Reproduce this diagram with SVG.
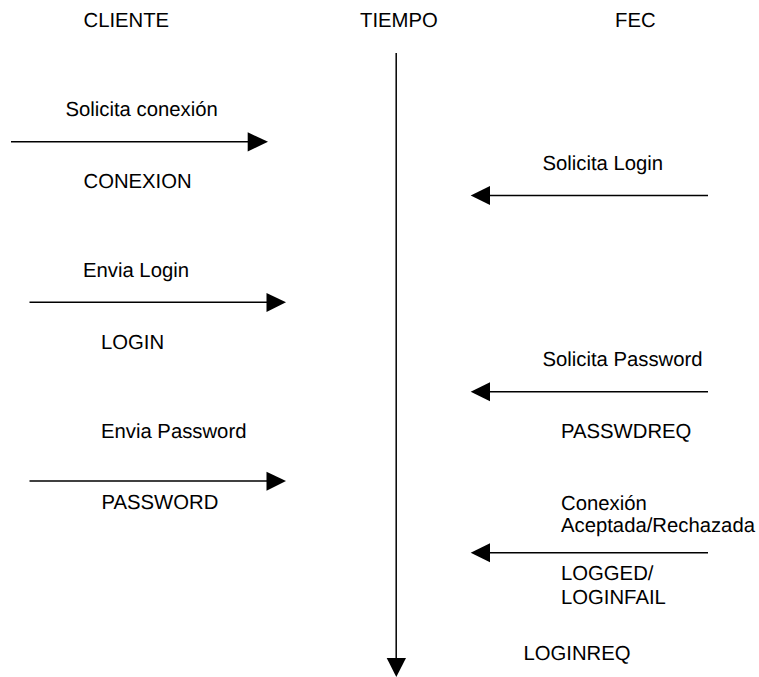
<svg xmlns="http://www.w3.org/2000/svg" width="759" height="677" viewBox="0 0 759 677">
<style>
text{font-family:"Liberation Sans",Arial,sans-serif;font-size:20.3px;fill:#000;text-rendering:geometricPrecision}
.c{stroke:#000;stroke-width:1.5;fill:none}
.h{fill:#000;stroke:none}
</style>
<rect width="759" height="677" fill="#fff"/>
<g id="labels">
<text x="83.500" y="27.300">CLIENTE</text>
<text x="360" y="27.300">TIEMPO</text>
<text x="615" y="27.300">FEC</text>
<text x="65.500" y="116">Solicita conexión</text>
<text x="83.500" y="188">CONEXION</text>
<text x="542.500" y="170">Solicita Login</text>
<text x="83" y="277">Envia Login</text>
<text x="101" y="349">LOGIN</text>
<text x="542.500" y="366">Solicita Password</text>
<text x="101" y="438">Envia Password</text>
<text x="561" y="438">PASSWDREQ</text>
<text x="101.500" y="509">PASSWORD</text>
<text x="561" y="510">Conexión</text>
<text x="561" y="532">Aceptada/Rechazada</text>
<text x="561" y="580">LOGGED/</text>
<text x="561" y="604">LOGINFAIL</text>
<text x="523.500" y="660">LOGINREQ</text>
</g>
<g id="connectors">
<path class="c" d="M396.200 53V660"/><path class="h" d="M386.700 658H406L396.300 677Z"/>
<path class="c" d="M11 141.700H250"/><path class="h" d="M247.700 132.300L268 141.700L247.700 151.500Z"/>
<path class="c" d="M708 195.500H488"/><path class="h" d="M490 186L470.700 195.500L490 205Z"/>
<path class="c" d="M29.500 302.300H268"/><path class="h" d="M266.500 293L286 302.300L266.500 312Z"/>
<path class="c" d="M708 391.700H488"/><path class="h" d="M490 382.300L470.700 391.700L490 401.300Z"/>
<path class="c" d="M29.500 481H268"/><path class="h" d="M266.500 471.700L286 481L266.500 490.700Z"/>
<path class="c" d="M708 552.700H488"/><path class="h" d="M490 543.300L470.700 552.700L490 562.300Z"/>
</g>
</svg>
